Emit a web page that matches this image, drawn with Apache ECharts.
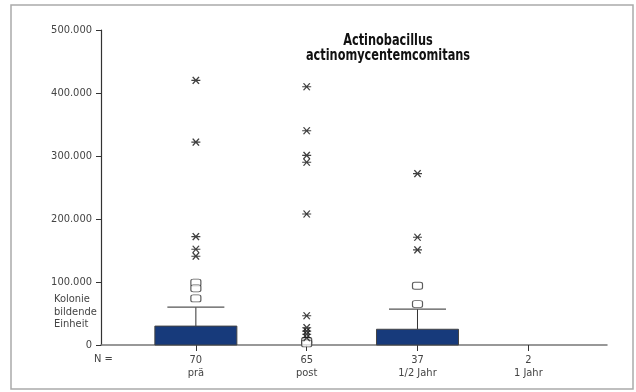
<!DOCTYPE html>
<html>
<head>
<meta charset="utf-8">
<script src="https://cdn.jsdelivr.net/npm/echarts@6/dist/echarts.min.js"></script>
<style>
  html, body { margin: 0; padding: 0; background: #fff; }
  #chart { width: 636px; height: 392px; }
</style>
</head>
<body>
<div id="chart"></div>
<script>
// Group labels and sample sizes
const groups = ['prä', 'post', '1/2 Jahr', '1 Jahr'];
const counts = [70, 65, 37, 2];

// Box statistics per group: [q1, median, q3, upper whisker]; null = no box
const boxStats = [
  [0, 0, 30000, 60000],
  null,
  [0, 0, 25000, 57000],
  null
];

// Mild outliers (circles), per group
const mildOutliers = [
  [99000, 90000, 74000],
  [6300, 2500],
  [94000, 65000],
  []
];

// Extreme values (asterisks), per group
const extremes = [
  [420000, 322000, 172000, 152000, 141000],
  [410000, 340000, 301000, 290000, 208000, 46500, 27500, 22000, 17000, 11500],
  [272000, 171000, 151000],
  []
];

const yTicks = [0, 100000, 200000, 300000, 400000, 500000];

const fmt = v => v === 0 ? '0' : String(v).replace(/\B(?=(\d{3})+(?!\d))/g, '.');

const boxData = [];
boxStats.forEach((s, i) => { if (s) boxData.push([i + 1].concat(s)); });

const circleData = [];
mildOutliers.forEach((arr, i) => arr.forEach(v => circleData.push([i + 1, v])));
const starData = [];
extremes.forEach((arr, i) => arr.forEach(v => starData.push([i + 1, v])));

const BOX_W = 82, CAP_W = 57;
const starPath = 'path://M0,5L10,5M1.5,0L8.5,10M8.5,0L1.5,10';

const font = "'DejaVu Sans Condensed', 'Liberation Sans Narrow', sans-serif";

const chart = echarts.init(document.getElementById('chart'), null, { renderer: 'canvas' });
chart.setOption({
  animation: false,
  backgroundColor: '#fff',
  grid: { left: 101, right: 29, top: 30, bottom: 47 },
  xAxis: {
    type: 'value',
    min: 0.144,
    max: 4.71,
    splitLine: { show: false },
    axisLine: { show: true, onZero: false, lineStyle: { color: '#777', width: 1.5 } },
    axisTick: { show: true, customValues: [1, 2, 3, 4], length: 6, lineStyle: { color: '#333' } },
    axisLabel: {
      customValues: [1, 2, 3, 4],
      margin: 9,
      color: '#444',
      fontFamily: font,
      fontSize: 11,
      lineHeight: 12.5,
      formatter: v => counts[Math.round(v) - 1] + '\n' + groups[Math.round(v) - 1]
    }
  },
  yAxis: {
    type: 'value',
    min: yTicks[0],
    max: yTicks[yTicks.length - 1],
    interval: yTicks[1] - yTicks[0],
    splitLine: { show: false },
    axisLine: { show: true, lineStyle: { color: '#333', width: 1.2 } },
    axisTick: { show: true, length: 5, lineStyle: { color: '#333' } },
    axisLabel: {
      margin: 9,
      color: '#444',
      fontFamily: font,
      fontSize: 11,
      formatter: v => fmt(v)
    }
  },
  graphic: [
    {
      type: 'rect', silent: true, z: -10,
      shape: { x: 11, y: 5, width: 622, height: 384 },
      style: { fill: 'none', stroke: '#aaa', lineWidth: 1.5 }
    },
    {
      type: 'text', left: 54, top: 293,
      style: {
        text: 'Kolonie\nbildende\nEinheit',
        fill: '#444', font: "11px 'DejaVu Sans Condensed', sans-serif", lineHeight: 12.5
      }
    },
    {
      type: 'text', left: 94, top: 354,
      style: { text: 'N =', fill: '#444', font: "11px 'DejaVu Sans Condensed', sans-serif" }
    },
    {
      type: 'text', x: 388, y: 34, scaleX: 0.84,
      style: {
        text: 'Actinobacillus\nactinomycentemcomitans',
        align: 'center',
        fill: '#111', font: "bold 15px 'DejaVu Sans Condensed', sans-serif", lineHeight: 15
      }
    }
  ],
  series: [
    {
      type: 'custom',
      z: 2,
      data: boxData,
      renderItem: function (params, api) {
        const x = api.value(0);
        const q1 = api.coord([x, api.value(1)]);
        const q3 = api.coord([x, api.value(3)]);
        const wh = api.coord([x, api.value(4)]);
        const cx = q1[0];
        return {
          type: 'group',
          children: [
            {
              type: 'line',
              shape: { x1: cx, y1: q3[1], x2: cx, y2: wh[1] },
              style: { stroke: '#333', lineWidth: 1 }
            },
            {
              type: 'line',
              shape: { x1: cx - CAP_W / 2, y1: wh[1], x2: cx + CAP_W / 2, y2: wh[1] },
              style: { stroke: '#555', lineWidth: 1.3 }
            },
            {
              type: 'rect',
              shape: { x: cx - BOX_W / 2, y: q3[1], width: BOX_W, height: q1[1] - q3[1] },
              style: { fill: '#173a7b', stroke: '#444', lineWidth: 1 }
            }
          ]
        };
      }
    },
    {
      type: 'scatter',
      z: 3,
      data: circleData,
      symbol: 'roundRect',
      symbolSize: [10, 7],
      itemStyle: { color: '#fff', borderColor: '#333', borderWidth: 1 }
    },
    {
      type: 'scatter',
      z: 4,
      data: starData,
      symbol: starPath,
      symbolSize: [9, 7],
      itemStyle: { color: 'none', borderColor: '#111', borderWidth: 1.2 }
    }
  ]
});
</script>
</body>
</html>
